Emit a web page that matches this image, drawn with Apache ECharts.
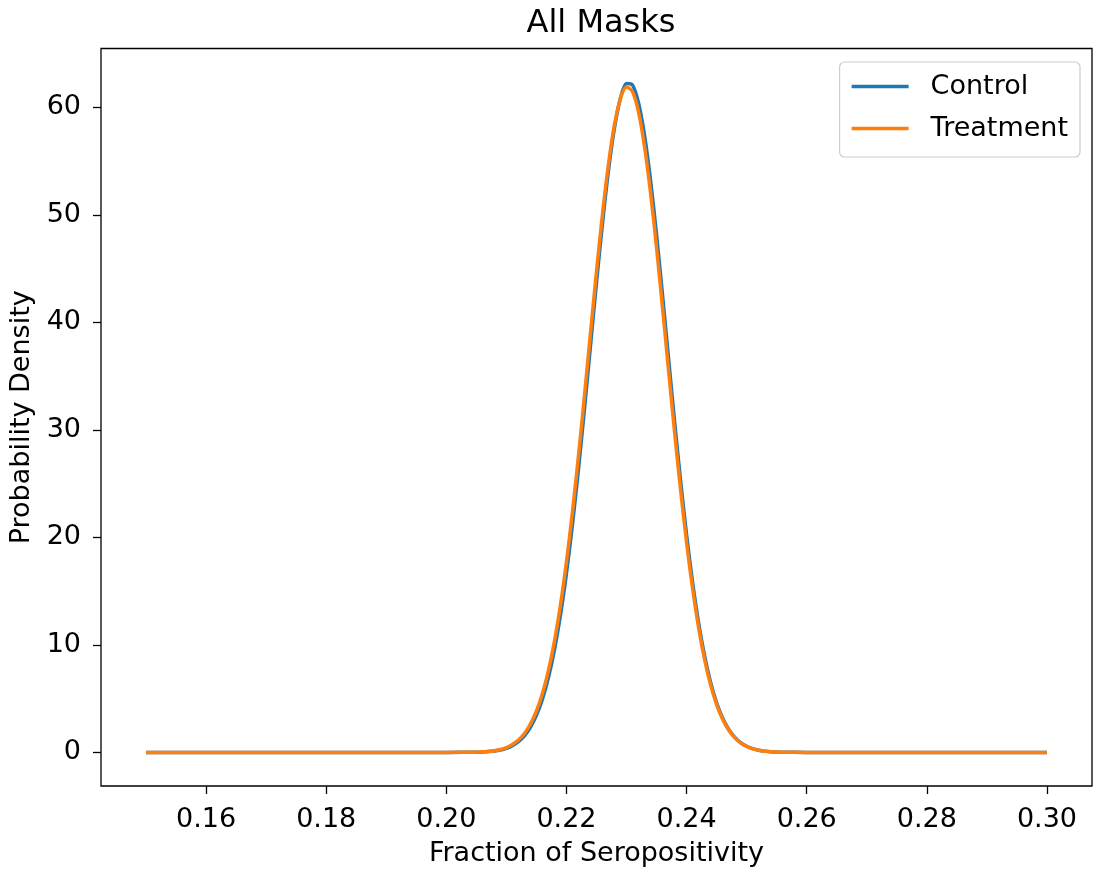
<!DOCTYPE html>
<html lang="en">
<head>
    <meta charset="UTF-8">
    <title>All Masks</title>
    <script type="text/javascript" src="https://cdn.jsdelivr.net/npm/echarts@6/dist/echarts.min.js"></script>
</head>
<body style="margin: 0; background: #fff">

<div id="main" style="width: 1095px; height: 872px;"></div>

<script>
    // fraction of seropositivity (x)
    var xs = [0.15, 0.18, 0.20,
        0.205, 0.206, 0.207, 0.208, 0.209, 0.210, 0.211, 0.212, 0.213, 0.214,
        0.215, 0.216, 0.217, 0.218, 0.219, 0.220, 0.221, 0.222, 0.223, 0.224,
        0.225, 0.226, 0.227, 0.228, 0.229, 0.230, 0.231, 0.232, 0.233, 0.234,
        0.235, 0.236, 0.237, 0.238, 0.239, 0.240, 0.241, 0.242, 0.243, 0.244,
        0.245, 0.246, 0.247, 0.248, 0.249, 0.250, 0.251, 0.252, 0.253, 0.254,
        0.255, 0.256,
        0.26, 0.28, 0.30];

    var control = [0, 0, 0.001,
        0.024, 0.044, 0.078, 0.137, 0.233, 0.388, 0.630, 0.999, 1.547, 2.339,
        3.447, 4.960, 6.963, 9.537, 12.76, 16.65, 21.20, 26.34, 31.94, 37.81,
        43.66, 49.21, 54.13, 58.10, 60.86, 62.21, 62.06, 60.41, 57.39, 53.21,
        48.14, 42.50, 36.63, 30.80, 25.27, 20.24, 15.82, 12.06, 8.975, 6.52,
        4.62, 3.196, 2.157, 1.421, 0.914, 0.573, 0.351, 0.210, 0.122, 0.070,
        0.039, 0.021,
        0.001, 0, 0];

    var treatment = [0, 0, 0.001,
        0.030, 0.054, 0.096, 0.166, 0.279, 0.459, 0.737, 1.156, 1.767, 2.642,
        3.853, 5.484, 7.624, 10.35, 13.71, 17.73, 22.38, 27.59, 33.20, 39.00,
        44.72, 50.08, 54.73, 58.40, 60.84, 61.87, 61.43, 59.54, 56.33, 52.04,
        46.93, 41.31, 35.51, 29.79, 24.41, 19.52, 15.24, 11.61, 8.64, 6.28,
        4.45, 3.081, 2.083, 1.374, 0.885, 0.556, 0.342, 0.204, 0.120, 0.068,
        0.038, 0.021,
        0.001, 0, 0];

    var xTicks = [0.16, 0.18, 0.20, 0.22, 0.24, 0.26, 0.28, 0.30];
    var yTicks = [0, 10, 20, 30, 40, 50, 60];

    function pairs(ys) {
        var out = [];
        for (var i = 0; i < xs.length; i++) {
            out.push([xs[i], ys[i]]);
        }
        return out;
    }

    var font = 'DejaVu Sans';
    var myChart = echarts.init(document.getElementById('main'));

    var option = {
        backgroundColor: '#ffffff',
        animation: false,
        title: {
            text: 'All Masks',
            left: 596,
            textAlign: 'center',
            top: 3,
            textStyle: {
                fontFamily: font,
                fontSize: 32,
                fontWeight: 'normal',
                color: '#000'
            }
        },
        legend: {
            orient: 'vertical',
            right: 15,
            top: 62,
            padding: [11, 12, 15, 12],
            itemGap: 15,
            itemWidth: 57,
            itemHeight: 3.5,
            icon: 'rect',
            borderColor: '#cccccc',
            borderWidth: 1.2,
            borderRadius: 5,
            backgroundColor: 'rgba(255,255,255,0.8)',
            textStyle: {
                fontFamily: font,
                fontSize: 27,
                color: '#000',
                padding: [0, 0, 0, 17]
            },
            data: ['Control', 'Treatment']
        },
        grid: {
            left: 101,
            right: 3,
            top: 48.5,
            bottom: 85,
            show: true,
            borderColor: '#000',
            borderWidth: 1.3
        },
        xAxis: {
            type: 'value',
            min: 0.1425,
            max: 0.3075,
            name: 'Fraction of Seropositivity',
            nameLocation: 'middle',
            nameGap: 54,
            nameTextStyle: {fontFamily: font, fontSize: 27, color: '#000'},
            axisLine: {show: false, onZero: false},
            splitLine: {show: false},
            axisTick: {
                show: true,
                length: 8,
                customValues: xTicks,
                lineStyle: {color: '#000', width: 1.3}
            },
            axisLabel: {
                customValues: xTicks,
                margin: 20,
                fontFamily: font,
                fontSize: 27,
                color: '#000',
                formatter: function (v) {
                    return v.toFixed(2);
                }
            }
        },
        yAxis: {
            type: 'value',
            min: -3.12,
            max: 65.46,
            name: 'Probability Density',
            nameLocation: 'middle',
            nameGap: 66,
            nameTextStyle: {fontFamily: font, fontSize: 27, color: '#000'},
            axisLine: {show: false},
            splitLine: {show: false},
            axisTick: {
                show: true,
                length: 8,
                customValues: yTicks,
                lineStyle: {color: '#000', width: 1.3}
            },
            axisLabel: {
                customValues: yTicks,
                margin: 20,
                fontFamily: font,
                fontSize: 27,
                color: '#000'
            }
        },
        series: [{
            name: 'Control',
            type: 'line',
            symbol: 'none',
            smooth: 0.3,
            lineStyle: {width: 3.5, color: '#1f77b4'},
            itemStyle: {color: '#1f77b4'},
            data: pairs(control)
        }, {
            name: 'Treatment',
            type: 'line',
            symbol: 'none',
            smooth: 0.3,
            lineStyle: {width: 3.5, color: '#ff7f0e'},
            itemStyle: {color: '#ff7f0e'},
            data: pairs(treatment)
        }]
    };

    myChart.setOption(option);
</script>
</body>
</html>
